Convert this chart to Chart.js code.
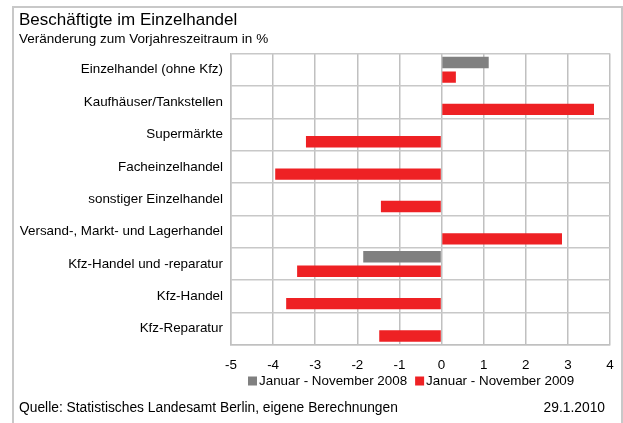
<!DOCTYPE html>
<html>
<head>
<meta charset="utf-8">
<script src="https://cdn.jsdelivr.net/npm/chart.js@4"></script>
<style>
  body { margin: 0; background: #fff; }
  #frame { position: absolute; left: 12px; top: 6px; width: 607px; height: 420px; border: 2px solid #c8c8c8; }
  #wrap { position: absolute; left: 0; top: 0; width: 623px; height: 423px; }
</style>
</head>
<body>
<div id="frame"></div>
<div id="wrap"><canvas id="my-chart" width="623" height="423"></canvas></div>
<script>
var branchen = [
    'Einzelhandel (ohne Kfz)',
    'Kaufhäuser/Tankstellen',
    'Supermärkte',
    'Facheinzelhandel',
    'sonstiger Einzelhandel',
    'Versand-, Markt- und Lagerhandel',
    'Kfz-Handel und -reparatur',
    'Kfz-Handel',
    'Kfz-Reparatur'
];
// Veränderung in %, null = kein Wert
var werte2008 = [1.12, null, null, null, null, null, -1.86, null, null];
var werte2009 = [0.34, 3.62, -3.22, -3.95, -1.44, 2.86, -3.43, -3.69, -1.48];
var xTicks = [-5, -4, -3, -2, -1, 0, 1, 2, 3, 4];

var schrift = 'Liberation Sans, Arial, sans-serif';
var groesse = 13.4;
Chart.defaults.font.family = schrift;
Chart.defaults.color = '#000';

// Legende unter der Achse, Quellenangabe und Datum ganz unten
var fusszeile = {
    id: 'fusszeile',
    afterDraw: function (chart) {
        var c = chart.ctx;
        c.save();
        c.font = groesse + 'px ' + schrift;
        c.textBaseline = 'middle';

        var x = 248;
        var y = 381;
        chart.data.datasets.forEach(function (d) {
            c.fillStyle = d.backgroundColor;
            c.fillRect(x, y - 4.5, 9, 9);
            c.fillStyle = '#000';
            c.textAlign = 'left';
            c.fillText(d.label, x + 11, y);
            x += 11 + c.measureText(d.label).width + 8;
        });

        c.font = '13.8px ' + schrift;
        c.fillText('Quelle: Statistisches Landesamt Berlin, eigene Berechnungen', 19, 408);
        c.textAlign = 'right';
        c.fillText('29.1.2010', 605, 408);
        c.restore();
    }
};

var ctx = document.getElementById('my-chart').getContext('2d');
new Chart(ctx, {
    type: 'bar',
    data: {
        labels: branchen,
        datasets: [
            {
                label: 'Januar - November 2008',
                backgroundColor: '#808080',
                data: werte2008
            },
            {
                label: 'Januar - November 2009',
                backgroundColor: '#ee2124',
                data: werte2009
            }
        ]
    },
    options: {
        indexAxis: 'y',
        responsive: false,
        animation: false,
        categoryPercentage: 0.9,
        barPercentage: 0.78,
        layout: { padding: { left: 19, right: 13, bottom: 38, top: 0 } },
        scales: {
            x: {
                min: -5,
                max: 4,
                afterBuildTicks: function (axis) {
                    axis.ticks = xTicks.map(function (v) { return { value: v }; });
                },
                afterFit: function (axis) {
                    axis.paddingLeft = 0;
                    axis.paddingRight = 4;
                },
                grid: { color: '#c0c0c0', lineWidth: 1.5, drawTicks: false },
                border: { color: '#c0c0c0', width: 1.5 },
                ticks: { padding: 12, font: { size: groesse }, color: '#000' }
            },
            y: {
                afterFit: function (axis) {
                    axis.width = 212;
                },
                grid: { color: '#c8c8c8', lineWidth: 1.5, drawTicks: false, offset: true },
                border: { color: '#c0c0c0', width: 1.5 },
                ticks: { padding: 8, font: { size: groesse }, color: '#000', autoSkip: false }
            }
        },
        plugins: {
            title: {
                display: true,
                text: 'Beschäftigte im Einzelhandel',
                align: 'start',
                color: '#000',
                font: { size: 17, weight: 'normal' },
                padding: { top: 10, bottom: 0 }
            },
            subtitle: {
                display: true,
                text: 'Veränderung zum Vorjahreszeitraum in %',
                align: 'start',
                color: '#000',
                font: { size: 13.5, weight: 'normal' },
                padding: { top: 1, bottom: 6 }
            },
            legend: { display: false },
            tooltip: { enabled: false }
        }
    },
    plugins: [fusszeile]
});
</script>
</body>
</html>
